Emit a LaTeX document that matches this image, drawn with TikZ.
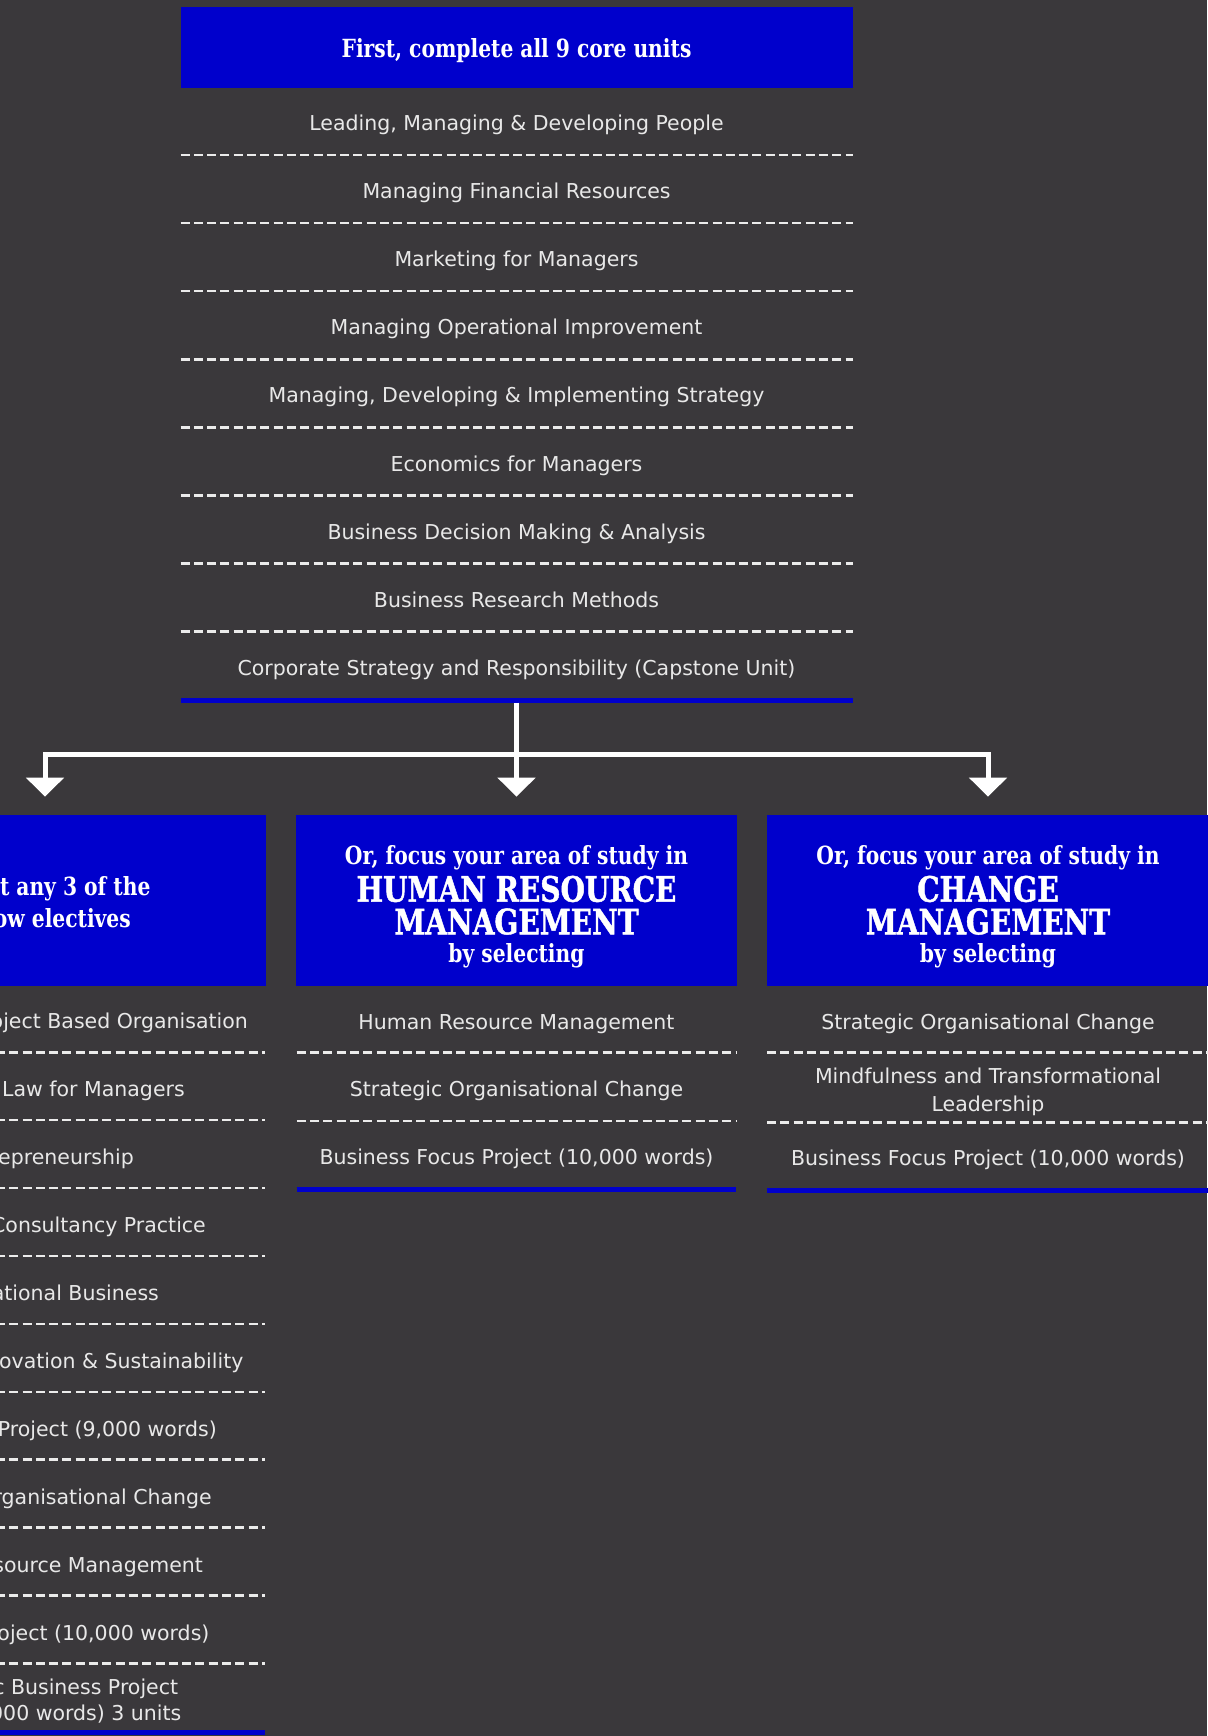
\documentclass[tikz,border=0pt]{standalone}
\usepackage{fontspec}
\setmainfont{DejaVu Sans}
\newfontfamily\hdfont{DejaVu Serif Condensed Bold}[FakeStretch=0.9]
\newfontfamily\bigfont{DejaVu Serif Condensed Bold}[FakeStretch=0.89,FakeBold=1.2]
\usetikzlibrary{arrows.meta}
\definecolor{bg}{RGB}{58,56,59}
\definecolor{ublue}{RGB}{0,0,204}
\definecolor{itemtxt}{RGB}{232,232,232}
\definecolor{sepcol}{RGB}{235,235,235}
\tikzset{
  hdrbox/.style={fill=ublue, draw=none, minimum width=672pt, minimum height=81pt, inner sep=0pt},
  colbox/.style={fill=ublue, draw=none, minimum width=441.6pt, minimum height=170.7pt, inner sep=0pt},
  item/.style={anchor=base, text=itemtxt, font=\fontsize{20.5}{24}\selectfont, inner sep=0pt},
  itemr/.style={item, anchor=base east},
  hdtxt/.style={anchor=base, text=white, font=\hdfont\fontsize{25}{30}\selectfont, inner sep=0pt},
  bigtxt/.style={anchor=base, text=white, font=\bigfont\fontsize{35}{40}\selectfont, inner sep=0pt},
  sepline/.style={draw=sepcol, line width=2.5pt, dash pattern=on 9pt off 4.3pt},
  blueline/.style={draw=ublue, line width=5pt},
  conn/.style={draw=white, line width=5pt},
  tipped/.style={-{Triangle[width=37pt,length=19pt]}}
}
\begin{document}
\begin{tikzpicture}[x=1pt,y=-1pt]
\useasboundingbox (0,0) rectangle (1207,1736);
\fill[bg] (0,0) rectangle (1207,1736);

% ---------- core units ----------
\node[hdrbox] (hdr) at (516.5,47.05) {};
\node[hdtxt] (hdrtxt) at (516.5,58) {First, complete all 9 core units};
\foreach \t [count=\i from 0] in {
  {Leading, Managing \& Developing People},
  {Managing Financial Resources},
  {Marketing for Managers},
  {Managing Operational Improvement},
  {Managing, Developing \& Implementing Strategy},
  {Economics for Managers},
  {Business Decision Making \& Analysis},
  {Business Research Methods},
  {Corporate Strategy and Responsibility (Capstone Unit)}}{
  \node[item] (core\i) at (516.5,{130.5+68.1*\i}) {\t};
}
\foreach \i in {0,...,7}{
  \draw[sepline] (180.5,{155+68.1*\i}) -- (852.6,{155+68.1*\i});
}
\draw[blueline] (180.5,700) -- (852.6,700);

% ---------- connectors ----------
\coordinate (coreend) at (516.5,702.5);
\coordinate (j) at (516.5,754);
\coordinate (tipL) at (45,796.7);
\coordinate (tipM) at (516.5,796.7);
\coordinate (tipR) at (988,796.7);
\draw[conn,tipped] (coreend) -- (tipM);
\draw[conn,tipped] (j) -| (tipL);
\draw[conn,tipped] (j) -| (tipR);

% ---------- column boxes ----------
\node[colbox] (boxL) at (45,900.35) {};
\node[colbox] (boxM) at (516.5,900.35) {};
\node[colbox] (boxR) at (988,900.35) {};

\node[hdtxt] (tL1) at (45,895) {Select any 3 of the};
\node[hdtxt] (tL2) at (45,927.7) {below electives};

\node[hdtxt] (tM1) at (516.5,864.3) {Or, focus your area of study in};
\node[bigtxt] (tM2) at (516.5,901.7) {HUMAN RESOURCE};
\node[bigtxt] (tM3) at (516.5,934.3) {MANAGEMENT};
\node[hdtxt] (tM4) at (516.5,962.7) {by selecting};

\node[hdtxt] (tR1) at (988,864.3) {Or, focus your area of study in};
\node[bigtxt] (tR2) at (988,901.7) {CHANGE};
\node[bigtxt] (tR3) at (988,934.3) {MANAGEMENT};
\node[hdtxt] (tR4) at (988,962.7) {by selecting};

% ---------- electives (left) ----------
\node[itemr] (el0) at (248,1028.9) {Managing the Project Based Organisation};
\node[item]  (el1) at (45,1096.8) {Business Law for Managers};
\node[item]  (el2) at (45,1164.7) {Entrepreneurship};
\node[itemr] (el3) at (206,1232.6) {Business Consultancy Practice};
\node[item]  (el4) at (45,1300.5) {International Business};
\node[itemr] (el5) at (243.6,1368.4) {Managing Innovation \& Sustainability};
\node[itemr] (el6) at (217,1436.3) {Business Project (9,000 words)};
\node[item]  (el7) at (45,1504.2) {Strategic Organisational Change};
\node[item]  (el8) at (45,1572.1) {Human Resource Management};
\node[item]  (el9) at (45,1640.0) {Business Project (10,000 words)};
\node[item]  (el10a) at (45,1694.6) {Strategic Business Project};
\node[itemr] (el10b) at (181.6,1720.3) {(20,000 words) 3 units};
\foreach \i in {0,...,9}{
  \draw[sepline] (-177,{1052.3+67.9*\i}) -- (265,{1052.3+67.9*\i});
}
\draw[blueline] (-177,1732.5) -- (265,1732.5);

% ---------- HRM column ----------
\node[item] (hr0) at (516.5,1029.3) {Human Resource Management};
\node[item] (hr1) at (516.5,1096.6) {Strategic Organisational Change};
\node[item] (hr2) at (516.5,1164.6) {Business Focus Project (10,000 words)};
\draw[sepline] (296.7,1052.7) -- (736,1052.7);
\draw[sepline] (296.7,1121) -- (736,1121);
\draw[blueline] (296.7,1189) -- (736,1189);

% ---------- Change management column ----------
\node[item] (cm0) at (988,1029.3) {Strategic Organisational Change};
\node[item] (cm1a) at (988,1083.6) {Mindfulness and Transformational};
\node[item] (cm1b) at (988,1111.6) {Leadership};
\node[item] (cm2) at (988,1165.6) {Business Focus Project (10,000 words)};
\draw[sepline] (767,1052.3) -- (1209,1052.3);
\draw[sepline] (767,1122.5) -- (1209,1122.5);
\draw[blueline] (767,1190.5) -- (1209,1190.5);
\end{tikzpicture}
\end{document}
